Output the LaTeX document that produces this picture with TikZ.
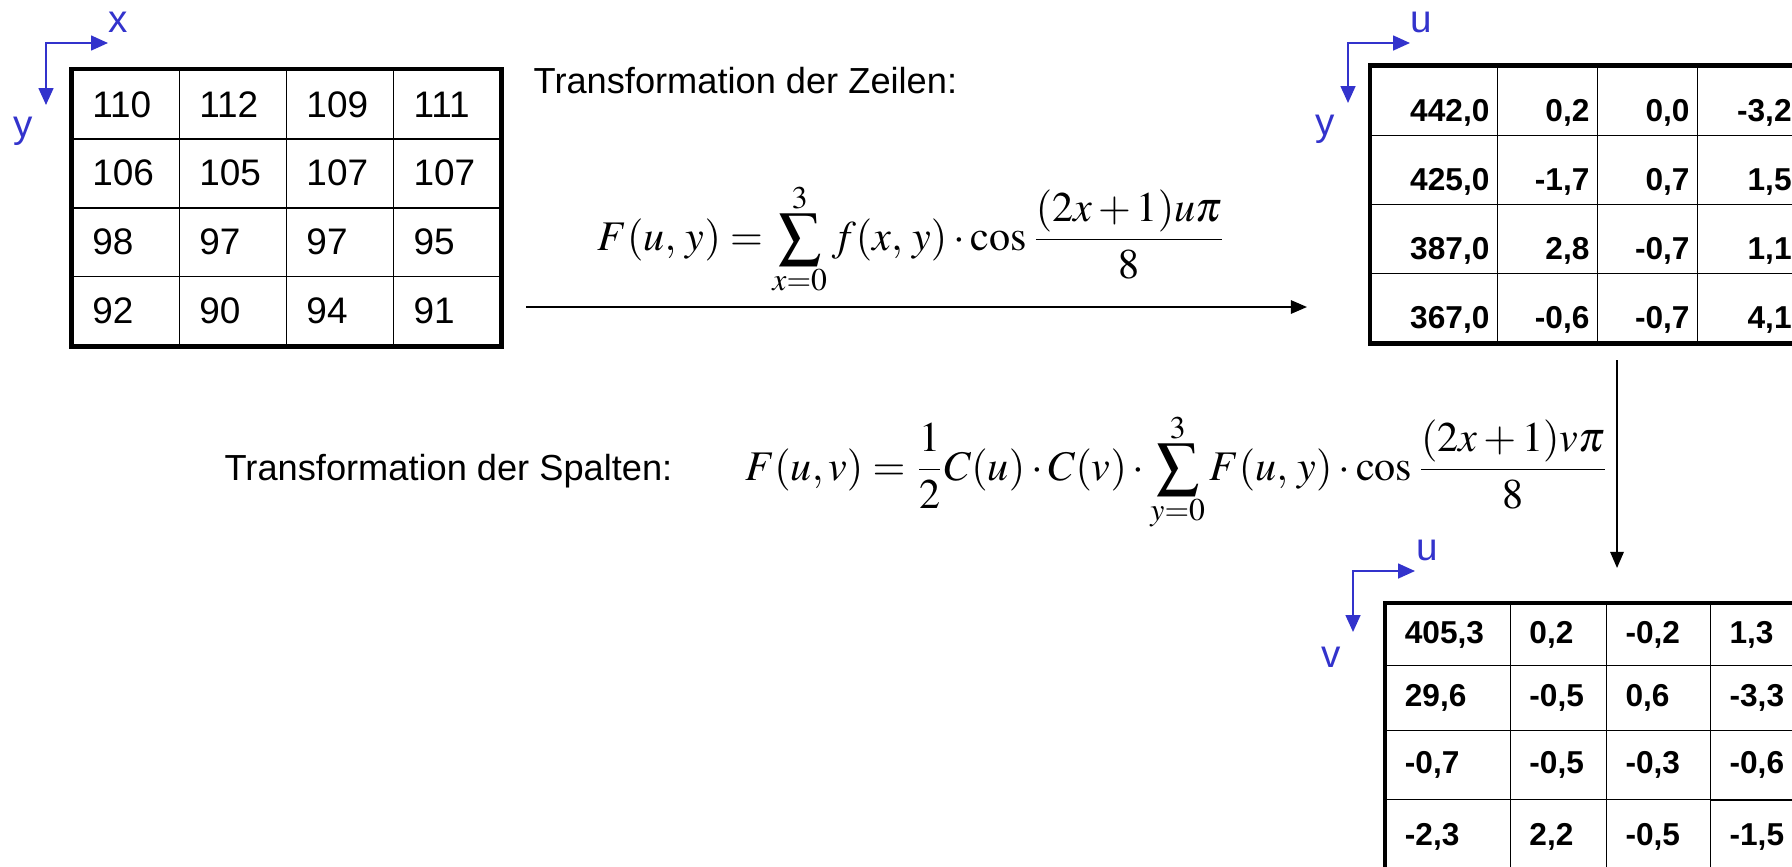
\documentclass[tikz,border=0pt]{standalone}
\usepackage{mathptmx}
\usepackage[no-math]{fontspec}
\setmainfont{Liberation Sans}
\usetikzlibrary{arrows.meta}
\usetikzlibrary{matrix}
\usetikzlibrary{positioning}

\definecolor{axisblue}{RGB}{51,51,204}
% engere Grenzen am Summenzeichen
\newcommand{\tightlimits}{\fontdimen9\textfont3=1.2pt\fontdimen10\textfont3=1pt\fontdimen11\textfont3=0pt\fontdimen12\textfont3=0pt\fontdimen13\textfont3=0pt}

\begin{document}
\begin{tikzpicture}[x=0.01cm,y=-0.01cm,
  axis/.style={draw=axisblue,line width=0.57pt,>={Triangle[length=4.8pt,width=4.2pt]},<->},
  axislabel/.style={text=axisblue,font=\fontsize{11}{13}\selectfont,inner sep=0pt,anchor=base},
  flow/.style={draw=black,line width=0.6pt,-{Triangle[length=4.6pt,width=3.8pt]}},
  note/.style={font=\fontsize{10.3}{12}\selectfont,inner sep=0pt,anchor=base west},
  formula/.style={font=\fontsize{12}{14}\selectfont,inner sep=0pt,anchor=base},
  valtab/.style={matrix of nodes,draw,line width=1.4pt,inner sep=0pt,anchor=north west,
    column sep=-0.5pt,row sep=-0.5pt,
    nodes={draw,line width=0.5pt,outer sep=0pt,inner ysep=0pt}},
]
\useasboundingbox (0,0) rectangle (1792,866);
\clip (0,0) rectangle (1792,866);

% Bildblock f(x,y)
\coordinate (xyo) at (46,43);
\coordinate (xtip) at (108,43);
\coordinate (ytip) at (46,105);
\draw[axis] (xtip) -- (xyo) -- (ytip);
\node[axislabel] (xlab) at (118,32) {x};
\node[axislabel] (ylab) at (23,137) {y};
\matrix (pixtab) [valtab, nodes={font=\fontsize{10.5}{12.6}\selectfont, text width=0.67cm, inner xsep=0.2cm, align=left, minimum height=0.6875cm}] at (69,66.5) {
110 & 112 & 109 & 111 \\
106 & 105 & 107 & 107 \\
98  & 97  & 97  & 95  \\
92  & 90  & 94  & 91  \\
};

% Zeilen
\node[note] (zeilen) at (533,93) {Transformation der Zeilen:};
\node[formula] (rowdct) at (912,250) {$\displaystyle\tightlimits F(u,\,y)=\sum_{x=0}^{3} f(x,\,y)\cdot\cos\frac{(2x+1)u\pi}{8}$};
\coordinate (rowsfrom) at (526,307);
\coordinate (rowsto) at (1307,307);
\draw[flow] (rowsfrom) -- (rowsto);

% Zwischenergebnis F(u,y)
\coordinate (uyo) at (1348,43);
\coordinate (utip) at (1410,43);
\coordinate (uytip) at (1348,103);
\draw[axis] (utip) -- (uyo) -- (uytip);
\node[axislabel] (ulab) at (1421,32) {u};
\node[axislabel] (uylab) at (1325,135) {y};
\matrix (rowtab) [valtab, nodes={font=\bfseries\fontsize{9}{11}\selectfont, inner xsep=0.08cm, align=right, text width=0.84cm, minimum height=0.69cm, text height=11.5pt, text depth=0pt},
  column 1/.style={nodes={text width=1.105cm}}, column 4/.style={nodes={text width=0.86cm}}] at (1367.5,63) {
442,0 & 0,2  & 0,0  & -3,2 \\
425,0 & -1,7 & 0,7  & 1,5  \\
387,0 & 2,8  & -0,7 & 1,1  \\
367,0 & -0,6 & -0,7 & 4,1  \\
};

% Spalten
\node[note] (spalten) at (224,480) {Transformation der Spalten:};
\node[formula] (coldct) at (1177,480) {$\displaystyle\tightlimits F(u,v)=\frac{1}{2}C(u)\cdot C(v)\cdot\sum_{y=0}^{3}F(u,\,y)\cdot\cos\frac{(2x+1)v\pi}{8}$};
\coordinate (colsfrom) at (1617,360);
\coordinate (colsto) at (1617,568);
\draw[flow] (colsfrom) -- (colsto);

% Ergebnis F(u,v)
\coordinate (uvo) at (1353,571);
\coordinate (uvtip) at (1415,571);
\coordinate (vtip) at (1353,632);
\draw[axis] (uvtip) -- (uvo) -- (vtip);
\node[axislabel] (uvlab) at (1427,560) {u};
\node[axislabel] (vlab) at (1331,667) {v};
\matrix (coltab) [valtab, nodes={font=\bfseries\fontsize{9}{11}\selectfont, inner xsep=0.19cm, align=left},
  column 1/.style={nodes={text width=0.865cm}}, column 2/.style={nodes={text width=0.58cm}},
  column 3/.style={nodes={text width=0.66cm}}, column 4/.style={nodes={text width=0.62cm}},
  row 1/.style={nodes={minimum height=0.615cm}}, row 2/.style={nodes={minimum height=0.65cm}},
  row 3/.style={nodes={minimum height=0.69cm}}, row 4/.style={nodes={minimum height=0.75cm}}] at (1382.5,600.5) {
405,3 & 0,2  & -0,2 & 1,3  \\
29,6  & -0,5 & 0,6  & -3,3 \\
-0,7  & -0,5 & -0,3 & -0,6 \\
-2,3  & 2,2  & -0,5 & -1,5 \\
};
\end{tikzpicture}
\end{document}
